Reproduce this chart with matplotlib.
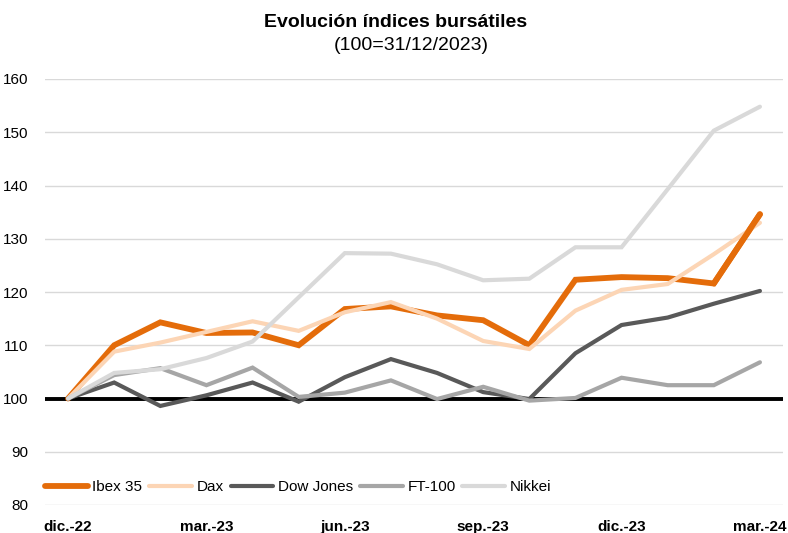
import matplotlib
matplotlib.use("Agg")
import matplotlib.pyplot as plt
import numpy as np

plt.rcParams['font.family'] = ['Liberation Sans', 'DejaVu Sans']

months = ["dic.-22", "ene.-23", "feb.-23", "mar.-23", "abr.-23", "may.-23", "jun.-23",
          "jul.-23", "ago.-23", "sep.-23", "oct.-23", "nov.-23", "dic.-23", "ene.-24",
          "feb.-24", "mar.-24"]
tick_labels = ["dic.-22", "mar.-23", "jun.-23", "sep.-23", "dic.-23", "mar.-24"]

ibex = [100, 110.0, 114.3, 112.3, 112.4, 110.0, 116.8, 117.3, 115.6, 114.7, 110.0,
        122.3, 122.8, 122.6, 121.6, 134.6]
dax = [100, 108.8, 110.5, 112.5, 114.5, 112.7, 116.2, 118.1, 115.0, 110.8, 109.3,
       116.5, 120.4, 121.5, 127.1, 133.0]
dow = [100, 103.0, 98.6, 100.6, 103.0, 99.4, 104.0, 107.4, 104.8, 101.2, 99.9,
       108.5, 113.8, 115.2, 117.8, 120.2]
ft100 = [100, 104.4, 105.7, 102.5, 105.8, 100.3, 101.1, 103.4, 99.9, 102.2, 99.6,
         100.1, 103.9, 102.5, 102.5, 106.8]
nikkei = [100, 104.8, 105.5, 107.6, 110.7, 119.0, 127.3, 127.2, 125.2, 122.2, 122.5,
          128.4, 128.4, 139.3, 150.3, 154.8]

series = [("Ibex 35", ibex, "#E46C0A", 4.2),
          ("Dax", dax, "#FCD5B5", 3.0),
          ("Dow Jones", dow, "#595959", 3.0),
          ("FT-100", ft100, "#A6A6A6", 3.0),
          ("Nikkei", nikkei, "#D9D9D9", 3.0)]

fig = plt.figure(figsize=(7.88, 5.33), dpi=100)
ax = fig.add_axes([45/788, 28/533, 738/788, 426/533])

x = np.arange(len(months))
handles = []
for i, (name, vals, col, lw) in enumerate(series):
    h, = ax.plot(x, vals, color=col, lw=lw, solid_capstyle='round',
                 solid_joinstyle='miter', zorder=3 + i * 0.1, label=name)
    handles.append(h)
# last Ibex segment is drawn above the Dax in the original
ax.plot(x[-2:], ibex[-2:], color=series[0][2], lw=series[0][3],
        solid_capstyle='round', zorder=4)

ax.set_xlim(-0.5, 15.5)
ax.set_ylim(80, 160)
ax.set_yticks(np.arange(80, 161, 10))
ax.grid(axis='y', color='#D9D9D9', lw=1.0, zorder=0)
ax.axhline(100, color='black', lw=2.8, zorder=2)
for s in ax.spines.values():
    s.set_visible(False)

tick_pos = [months.index(t) for t in tick_labels]
ax.set_xticks(tick_pos)
ax.set_xticklabels(tick_labels, fontweight='bold', fontsize=11)
ax.tick_params(axis='both', length=0, labelsize=11)
ax.tick_params(axis='y', pad=12)
ax.tick_params(axis='x', pad=11)

leg = fig.legend(handles, [s[0] for s in series],
                 loc='center left', bbox_to_anchor=(45/788, 1 - 487/533),
                 ncol=5, frameon=False, fontsize=11, handlelength=2.8,
                 handletextpad=0.3, columnspacing=0.45, borderpad=0, borderaxespad=0)

fig.text(396/788, 1 - 22/533, "Evolución índices bursátiles", ha='center', va='center',
         fontsize=14, fontweight='bold')
fig.text(411/788, 1 - 46/533, "(100=31/12/2023)", ha='center', va='center', fontsize=14)

fig.savefig("out.png", dpi=100)
